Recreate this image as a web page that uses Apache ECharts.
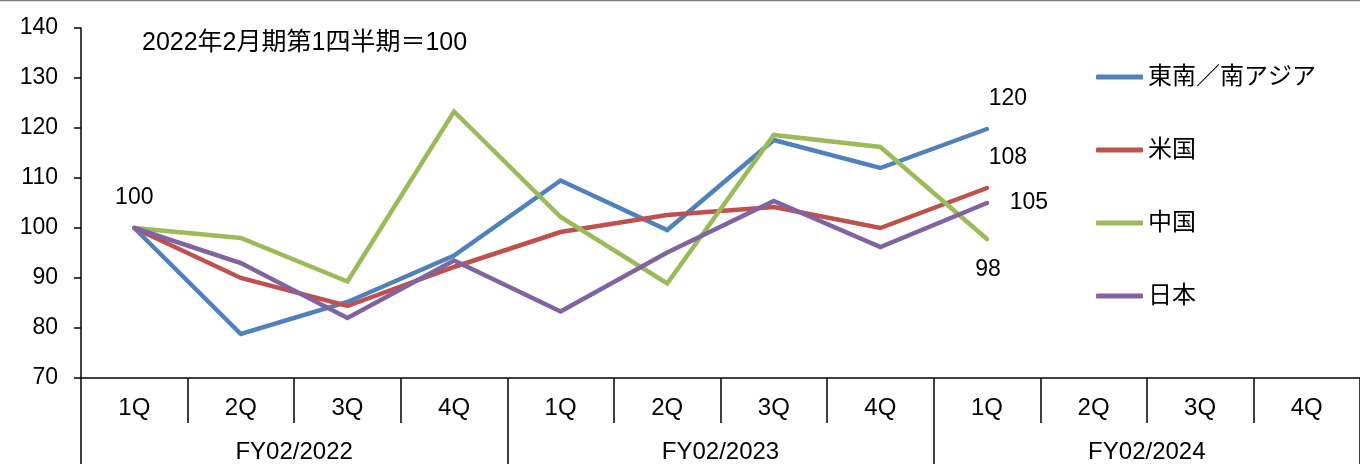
<!DOCTYPE html>
<html><head><meta charset="utf-8">
<script src="https://cdn.jsdelivr.net/npm/echarts@6/dist/echarts.min.js"></script>
<style>html,body{margin:0;padding:0;background:#fff}#c{width:1360px;height:464px}</style>
</head><body><div id="c"></div>
<script>
const quarters = ['1Q','2Q','3Q','4Q','1Q','2Q','3Q','4Q','1Q','2Q','3Q','4Q'];
const fiscalYears = ['FY02/2022','FY02/2023','FY02/2024'];
const seriesNames = ['東南／南アジア','米国','中国','日本'];
const seaValues   = [100, 78.8, 85.2, 94.5, 109.5, 99.6, 117.6, 112.0, 119.8];
const usValues    = [100, 90.0, 84.4, 92.2, 99.2, 102.6, 104.2, 100.0, 108.0];
const chinaValues = [100, 98.0, 89.3, 123.3, 102.2, 88.9, 118.6, 116.2, 97.8];
const japanValues = [100, 93.0, 82.0, 93.5, 83.3, 95.1, 105.4, 96.2, 105.0];
const yTicks = [70, 80, 90, 100, 110, 120, 130, 140];
const noteText = '2022年2月期第1四半期＝100';

const FONT = 'Liberation Sans, Arial, Noto Sans CJK JP, sans-serif';
const colors = ['#4F81BD','#C0504D','#9BBB59','#8064A2'];
const labelSpecs = [
  {0:{offset:[0,-30]}, 8:{offset:[21,-30]}},
  {8:{offset:[21,-30]}},
  {8:{offset:[1,31]}},
  {8:{offset:[42,0]}}
];
const allValues = [seaValues, usValues, chinaValues, japanValues];

function buildData(vals, spec){
  return vals.map((v,i)=>{
    const s = spec[i];
    if(!s) return {value:v};
    return {value:v, label:{show:true, position:'inside', offset:s.offset,
      formatter: String(Math.round(v)), fontSize:23, color:'#000', fontFamily:FONT}};
  });
}

const chart = echarts.init(document.getElementById('c'));
chart.setOption({
  animation:false,
  textStyle:{fontFamily:FONT},
  grid:{left:81, right:-8, top:28, bottom:86, containLabel:false},
  title:{text:noteText, left:137, top:26, textStyle:{fontSize:25, fontWeight:'normal', color:'#000', fontFamily:FONT}},
  graphic:[{type:'line', shape:{x1:0,y1:0.5,x2:1360,y2:0.5}, style:{stroke:'#808080', lineWidth:1.5}}],
  legend:{orient:'vertical', left:1091, top:60, itemWidth:47, itemHeight:5, itemGap:49,
    icon:'roundRect',
    textStyle:{fontSize:24, color:'#000', lineHeight:24, fontFamily:FONT},
    data:seriesNames},
  xAxis:[
    {type:'category', data:quarters, boundaryGap:true, position:'bottom',
     axisLine:{show:true, lineStyle:{color:'#000', width:1.5}},
     axisTick:{show:true, interval:0, length:45, lineStyle:{color:'#000', width:1.5}},
     axisLabel:{interval:0, margin:18, fontSize:24, color:'#000', fontFamily:FONT}},
    {type:'category', data:fiscalYears, boundaryGap:true, position:'bottom',
     axisLine:{show:false},
     axisTick:{show:true, interval:0, length:90, lineStyle:{color:'#000', width:1.5}},
     axisLabel:{interval:0, margin:62, fontSize:24, color:'#000', fontFamily:FONT}}
  ],
  yAxis:{type:'value', min:yTicks[0], max:yTicks[yTicks.length-1], interval:10,
    axisLine:{show:true, lineStyle:{color:'#000', width:1.5}},
    axisTick:{show:true, length:7, lineStyle:{color:'#000', width:1.5}},
    splitLine:{show:false},
    axisLabel:{margin:23, fontSize:23, color:'#000', fontFamily:FONT}},
  series: seriesNames.map((n,k)=>({
    name:n, type:'line', xAxisIndex:0, data:buildData(allValues[k], labelSpecs[k]),
    symbol:'circle', symbolSize:0, showSymbol:true,
    itemStyle:{color:colors[k]},
    lineStyle:{width:4.5, color:colors[k], cap:'round', join:'miter'},
    label:{show:false},
    emphasis:{disabled:true},
    z:[2,3,4,5][k]
  }))
});
</script></body></html>
